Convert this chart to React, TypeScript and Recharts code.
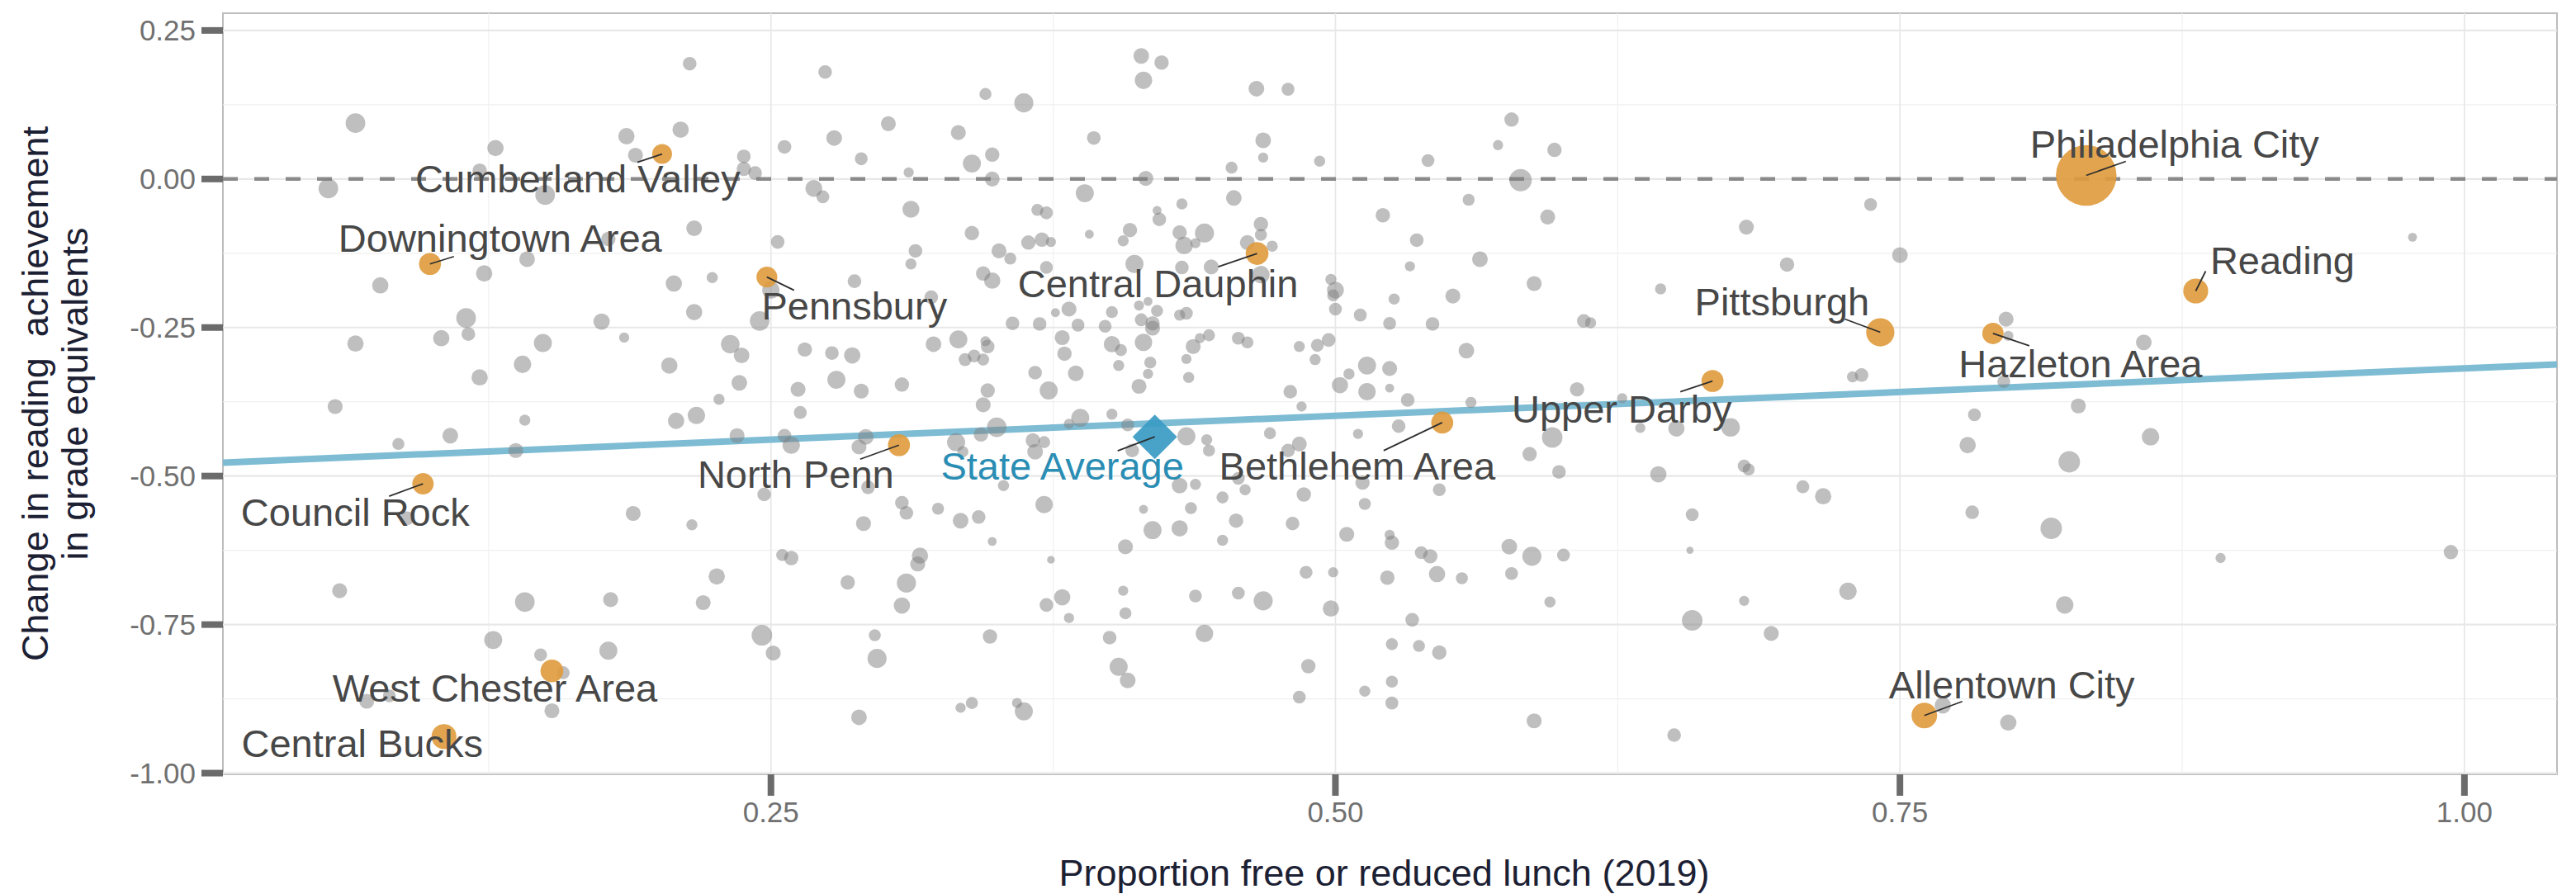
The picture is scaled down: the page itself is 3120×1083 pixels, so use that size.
import { Label, ReferenceArea, ReferenceLine, Scatter, ScatterChart, XAxis, YAxis, ZAxis } from 'recharts';

const FONT = '"Liberation Sans", Arial, Helvetica, sans-serif';

// axes
const X_DOMAIN: [number, number] = [0.0073, 1.041];
const Y_DOMAIN: [number, number] = [-1.002, 0.279];
const X_TICKS = [0.25, 0.5, 0.75, 1.0];
const Y_TICKS = [-1, -0.75, -0.5, -0.25, 0, 0.25];
const X_MINOR = [0.125, 0.375, 0.625, 0.875];
const Y_MINOR = [-0.875, -0.625, -0.375, -0.125, 0.125];

// linear fit drawn across the panel
const FIT_INTERCEPT = -0.4786;
const FIT_SLOPE = 0.16;

// state average
const STATE_AVG = [{ x: 0.42, y: -0.434, name: 'State Average' }];

// labelled districts: proportion FRL, change in grade equivalents, enrollment (thousands)
const NAMED = [
  'Philadelphia City', 'Pittsburgh', 'Allentown City', 'Reading', 'Central Bucks',
  'Downingtown Area', 'Central Dauphin', 'Upper Darby', 'Bethlehem Area', 'North Penn',
  'Pennsbury', 'Hazleton Area', 'Council Rock', 'West Chester Area', 'Cumberland Valley',
];
const NAMED_FRL = [0.8325, 0.7413, 0.7608, 0.881, 0.1052, 0.099, 0.4653, 0.667, 0.5473, 0.3067, 0.2482, 0.7912, 0.0959, 0.153, 0.2018];
const NAMED_CHANGE = [0.006, -0.258, -0.903, -0.1885, -0.9385, -0.143, -0.1254, -0.34, -0.41, -0.448, -0.165, -0.26, -0.513, -0.828, 0.042];
const NAMED_ENROLL = [124, 27, 22, 21, 21, 16.4, 17.6, 16.4, 16.4, 16.4, 14.7, 15.4, 15.4, 17.6, 13.3];

// all other districts: [proportion FRL, change, enrollment (thousands)]
const OTHER: [number, number, number][] = [
  [0.214, 0.194, 6.3], [0.066, 0.094, 13], [0.186, 0.072, 9], [0.210, 0.083, 9], [0.128, 0.052, 9],
  [0.256, 0.054, 6.3], [0.190, 0.040, 7.6], [0.238, 0.038, 6.3], [0.238, 0.017, 7], [0.243, 0.010, 6.3],
  [0.121, 0.014, 7], [0.054, -0.016, 13], [0.150, -0.027, 13], [0.216, -0.083, 8.3], [0.253, -0.106, 6.3],
  [0.178, -0.101, 7], [0.142, -0.135, 8.3], [0.123, -0.159, 9], [0.077, -0.179, 9], [0.207, -0.176, 9],
  [0.224, -0.166, 4.2], [0.250, -0.187, 10.3], [0.115, -0.234, 13], [0.216, -0.224, 9], [0.175, -0.240, 9],
  [0.245, -0.239, 13], [0.066, -0.277, 9], [0.104, -0.268, 9], [0.116, -0.261, 6.3], [0.149, -0.276, 11],
  [0.185, -0.267, 3.5], [0.232, -0.278, 11.7], [0.237, -0.297, 8.3], [0.265, -0.287, 7], [0.140, -0.312, 10.3],
  [0.205, -0.314, 9], [0.121, -0.334, 9], [0.236, -0.343, 8.3], [0.262, -0.354, 7.6],
  [0.274, 0.180, 6.3], [0.414, 0.207, 8.3], [0.423, 0.196, 7], [0.415, 0.166, 10.3], [0.345, 0.143, 4.9],
  [0.362, 0.128, 12.3], [0.465, 0.152, 8.3], [0.479, 0.151, 5.6], [0.302, 0.093, 7.6], [0.278, 0.069, 8.3],
  [0.333, 0.078, 7.6], [0.393, 0.069, 6.3], [0.468, 0.065, 8.3], [0.290, 0.034, 5.6], [0.348, 0.041, 7],
  [0.339, 0.026, 11], [0.311, 0.011, 3.5], [0.468, 0.036, 3.5], [0.454, 0.019, 4.9], [0.493, 0.030, 4.2],
  [0.348, 0.000, 7.6], [0.416, 0.001, 7.6], [0.269, -0.016, 9.7], [0.273, -0.030, 5.6], [0.389, -0.024, 11],
  [0.455, -0.032, 8.3], [0.312, -0.051, 9.7], [0.368, -0.052, 4.9], [0.372, -0.057, 5.6], [0.432, -0.042, 4.2],
  [0.421, -0.053, 2.7], [0.422, -0.068, 6.3], [0.521, -0.061, 7], [0.467, -0.076, 7], [0.339, -0.091, 7],
  [0.391, -0.093, 2.7], [0.409, -0.086, 7], [0.431, -0.090, 7], [0.442, -0.091, 12.3], [0.406, -0.104, 4.2],
  [0.364, -0.107, 7], [0.370, -0.102, 7], [0.374, -0.106, 3.5], [0.433, -0.112, 10.3], [0.438, -0.108, 3.5],
  [0.467, -0.094, 4.9], [0.461, -0.107, 7.6], [0.472, -0.113, 4.2], [0.314, -0.121, 6.3], [0.351, -0.121, 7.6],
  [0.356, -0.134, 4.9], [0.312, -0.143, 4.2], [0.411, -0.143, 11], [0.432, -0.149, 6.3], [0.445, -0.148, 7.6],
  [0.467, -0.161, 10.3], [0.372, -0.149, 5.6], [0.287, -0.172, 6.3], [0.344, -0.159, 7], [0.348, -0.171, 9],
  [0.498, -0.169, 4.2], [0.500, -0.187, 9.7], [0.499, -0.196, 4.9], [0.321, -0.199, 6.3], [0.526, -0.202, 4.2],
  [0.382, -0.219, 7.6], [0.376, -0.225, 2.7], [0.401, -0.224, 4.9], [0.413, -0.213, 3.5], [0.417, -0.206, 2.7],
  [0.421, -0.222, 4.9], [0.414, -0.237, 5.6], [0.419, -0.243, 7], [0.419, -0.251, 7.6], [0.431, -0.229, 4.2],
  [0.434, -0.226, 5.6], [0.500, -0.219, 5.6], [0.511, -0.229, 5.6], [0.357, -0.243, 6.3], [0.369, -0.244, 6.3],
  [0.386, -0.246, 5.6], [0.398, -0.248, 5.6], [0.524, -0.243, 5.6], [0.277, -0.293, 6.3], [0.286, -0.297, 9],
  [0.322, -0.278, 8.3], [0.333, -0.270, 11], [0.345, -0.273, 3.5], [0.346, -0.282, 6.3], [0.336, -0.304, 5.6],
  [0.340, -0.298, 5.6], [0.344, -0.304, 4.9], [0.379, -0.267, 7.6], [0.380, -0.294, 7], [0.401, -0.278, 9],
  [0.405, -0.288, 4.9], [0.415, -0.275, 10.3], [0.437, -0.282, 7.6], [0.440, -0.268, 3.5], [0.444, -0.263, 4.9],
  [0.457, -0.268, 5.6], [0.461, -0.275, 4.9], [0.484, -0.282, 4.2], [0.492, -0.280, 5.6], [0.497, -0.271, 6.3],
  [0.434, -0.303, 3.5], [0.418, -0.309, 4.9], [0.404, -0.314, 4.2], [0.491, -0.304, 4.2], [0.514, -0.314, 11],
  [0.524, -0.319, 7.6], [0.279, -0.338, 11], [0.290, -0.357, 7.6], [0.308, -0.346, 7], [0.367, -0.326, 6.3],
  [0.385, -0.327, 8.3], [0.373, -0.356, 11], [0.346, -0.356, 7], [0.417, -0.328, 3.5], [0.413, -0.349, 7.6],
  [0.435, -0.334, 4.2], [0.480, -0.358, 6.3], [0.502, -0.347, 9], [0.506, -0.328, 4.2], [0.514, -0.358, 10.3],
  [0.524, -0.352, 2.7],
  [0.578, 0.100, 7], [0.572, 0.057, 3.5], [0.597, 0.049, 7], [0.541, 0.031, 5.6], [0.582, -0.002, 16.9],
  [0.559, -0.035, 4.9], [0.594, -0.064, 7.6], [0.737, -0.043, 5.6], [0.682, -0.081, 7.6], [0.536, -0.103, 6.3],
  [0.750, -0.128, 8.3], [0.564, -0.135, 8.3], [0.533, -0.147, 3.5], [0.700, -0.144, 7], [0.588, -0.176, 7.6],
  [0.644, -0.185, 4.2], [0.552, -0.197, 7.6], [0.543, -0.244, 6.3], [0.610, -0.239, 6.3], [0.613, -0.242, 4.2],
  [0.558, -0.289, 8.3], [0.729, -0.333, 4.2], [0.733, -0.330, 6.3], [0.607, -0.354, 7],
  [0.977, -0.098, 2.7], [0.797, -0.236, 7.6], [0.798, -0.264, 3.5], [0.858, -0.275, 8.3], [0.796, -0.341, 5.6],
  [0.829, -0.382, 7.6],
  [0.861, -0.434, 10.3], [0.825, -0.476, 15.6], [0.817, -0.588, 15.6], [0.892, -0.638, 3.5], [0.994, -0.628, 7],
  [0.823, -0.717, 10.3], [0.798, -0.915, 9],
  [0.532, -0.372, 6.3], [0.560, -0.376, 4.2], [0.627, -0.369, 3.5], [0.596, -0.435, 14.3], [0.635, -0.419, 3.5],
  [0.651, -0.420, 9], [0.675, -0.418, 11.7], [0.783, -0.397, 5.6], [0.780, -0.448, 9], [0.586, -0.463, 7],
  [0.546, -0.523, 5.6], [0.599, -0.493, 6.3], [0.643, -0.497, 9], [0.681, -0.483, 5.6], [0.683, -0.489, 4.9],
  [0.707, -0.518, 5.6], [0.716, -0.534, 9], [0.658, -0.565, 5.6], [0.782, -0.561, 6.3], [0.538, -0.629, 5.6],
  [0.542, -0.635, 7], [0.577, -0.619, 8.3], [0.587, -0.635, 12.3], [0.601, -0.633, 5.6], [0.657, -0.625, 1.7],
  [0.545, -0.665, 9], [0.556, -0.672, 4.9], [0.578, -0.664, 5.6], [0.595, -0.712, 4.2], [0.727, -0.694, 10.3],
  [0.681, -0.710, 3.5], [0.534, -0.742, 6.3], [0.658, -0.743, 14.3], [0.693, -0.765, 7.6], [0.537, -0.786, 4.9],
  [0.546, -0.797, 7], [0.588, -0.912, 7.6], [0.650, -0.936, 6.3], [0.769, -0.886, 9],
  [0.344, -0.380, 7.6], [0.485, -0.383, 3.5], [0.528, -0.416, 6.3], [0.401, -0.396, 4.2], [0.387, -0.402, 11],
  [0.382, -0.412, 3.5], [0.350, -0.418, 13], [0.292, -0.434, 8.3], [0.289, -0.451, 7.6], [0.332, -0.443, 11],
  [0.343, -0.430, 7], [0.335, -0.459, 4.2], [0.366, -0.440, 7], [0.371, -0.443, 4.9], [0.367, -0.459, 8.3],
  [0.408, -0.414, 5.6], [0.410, -0.457, 6.3], [0.434, -0.433, 11], [0.443, -0.439, 4.2], [0.444, -0.457, 4.9],
  [0.471, -0.428, 4.9], [0.484, -0.446, 7.6], [0.479, -0.457, 6.3], [0.510, -0.429, 3.5], [0.293, -0.519, 6.3],
  [0.353, -0.516, 4.2], [0.431, -0.516, 8.3], [0.438, -0.514, 4.2], [0.450, -0.536, 4.9], [0.460, -0.523, 4.2],
  [0.486, -0.531, 7], [0.512, -0.511, 7], [0.457, -0.504, 5.6], [0.308, -0.545, 6.3], [0.310, -0.562, 6.3],
  [0.324, -0.555, 4.9], [0.291, -0.580, 7.6], [0.334, -0.575, 8.3], [0.342, -0.569, 6.3], [0.348, -0.610, 2.7],
  [0.371, -0.548, 10.3], [0.415, -0.556, 2.7], [0.436, -0.554, 4.9], [0.419, -0.591, 11], [0.431, -0.588, 9],
  [0.456, -0.575, 7], [0.450, -0.608, 4.2], [0.481, -0.580, 6.3], [0.505, -0.598, 7.6], [0.513, -0.547, 4.9],
  [0.524, -0.599, 3.5], [0.525, -0.612, 7], [0.407, -0.619, 7.6], [0.316, -0.634, 9], [0.315, -0.648, 7.6],
  [0.374, -0.641, 2], [0.284, -0.679, 7], [0.310, -0.680, 12.3], [0.308, -0.718, 9], [0.379, -0.704, 9],
  [0.372, -0.717, 6.3], [0.382, -0.739, 3.5], [0.406, -0.693, 3.5], [0.407, -0.731, 4.9], [0.438, -0.702, 5.6],
  [0.457, -0.697, 5.6], [0.468, -0.710, 12.3], [0.487, -0.662, 5.6], [0.499, -0.662, 3.5], [0.498, -0.723, 9],
  [0.523, -0.671, 7], [0.296, -0.768, 4.9], [0.297, -0.807, 12.3], [0.347, -0.770, 7], [0.400, -0.772, 6.3],
  [0.442, -0.765, 10.3], [0.404, -0.821, 11], [0.408, -0.844, 8.3], [0.488, -0.820, 7], [0.484, -0.872, 5.6],
  [0.513, -0.862, 4.2], [0.525, -0.846, 4.9], [0.525, -0.783, 4.9], [0.525, -0.882, 5.6], [0.289, -0.906, 8.3],
  [0.334, -0.890, 3.5], [0.339, -0.882, 4.9], [0.359, -0.882, 3.5], [0.362, -0.896, 11],
  [0.057, -0.383, 7.6], [0.141, -0.406, 4.2], [0.108, -0.432, 8.3], [0.085, -0.446, 4.9], [0.137, -0.457, 7.6],
  [0.208, -0.407, 9], [0.217, -0.398, 10.3], [0.227, -0.371, 4.2], [0.235, -0.432, 7.6], [0.263, -0.393, 5.6],
  [0.256, -0.432, 6.3], [0.259, -0.448, 10.3], [0.247, -0.531, 6.3], [0.089, -0.571, 6.3], [0.189, -0.563, 7.6],
  [0.215, -0.582, 4.2], [0.255, -0.633, 4.9], [0.259, -0.638, 7], [0.226, -0.669, 9], [0.059, -0.693, 7.6],
  [0.141, -0.712, 13], [0.179, -0.708, 7.6], [0.220, -0.713, 7.6], [0.127, -0.776, 11], [0.148, -0.801, 5.6],
  [0.178, -0.794, 11], [0.246, -0.768, 14.3], [0.251, -0.798, 7.6], [0.158, -0.831, 5.6], [0.071, -0.879, 7.6],
  [0.081, -0.870, 5.6], [0.153, -0.895, 7.6],
];

// label placement relative to each point, in px (text centre / baseline, leader end)
const LABEL_OFFSETS: Record<string, { dx: number; dy: number; lx?: number; ly?: number }> = {
  'Philadelphia City': { dx: 107, dy: -21, lx: 48, ly: -17 },
  Pittsburgh: { dx: -119, dy: -21, lx: -43, ly: -16 },
  'Allentown City': { dx: 106, dy: -21, lx: 46, ly: -17 },
  Reading: { dx: 105, dy: -20, lx: 12, ly: -24 },
  'Central Bucks': { dx: -99, dy: 25 },
  'Downingtown Area': { dx: 85, dy: -15, lx: 29, ly: -9 },
  'Central Dauphin': { dx: -120, dy: 53, lx: -47, ly: 16 },
  'Upper Darby': { dx: -110, dy: 50, lx: -39, ly: 13 },
  'Bethlehem Area': { dx: -103, dy: 69, lx: -71, ly: 34 },
  'North Penn': { dx: -125, dy: 52, lx: -47, ly: 17 },
  Pennsbury: { dx: 106, dy: 51, lx: 33, ly: 16 },
  'Hazleton Area': { dx: 106, dy: 53, lx: 44, ly: 15 },
  'Council Rock': { dx: -82, dy: 51, lx: -41, ly: 15 },
  'West Chester Area': { dx: -69, dy: 37 },
  'Cumberland Valley': { dx: -102, dy: 46, lx: -30, ly: 10 },
  'State Average': { dx: -112, dy: 52, lx: -45, ly: 17 },
};

const otherData = OTHER.map(([x, y, z]) => ({ x, y, z }));
const namedData = NAMED.map((name, i) => ({ name, x: NAMED_FRL[i], y: NAMED_CHANGE[i], z: NAMED_ENROLL[i] }));
const fitAt = (x: number) => FIT_INTERCEPT + FIT_SLOPE * x;

function NameLabel(props: any) {
  const { cx, cy, payload } = props;
  const o = LABEL_OFFSETS[payload.name];
  if (!o) return null;
  const isAvg = payload.name === 'State Average';
  return (
    <g>
      {o.lx !== undefined && (
        <line x1={cx} y1={cy} x2={cx + o.lx} y2={cy + (o.ly ?? 0)} stroke="#2f2f2f" strokeWidth={1.8} />
      )}
      <text
        x={cx + o.dx}
        y={cy + o.dy}
        textAnchor="middle"
        fontSize={47}
        fontFamily={FONT}
        fill={isAvg ? '#2a8db4' : '#474747'}
      >
        {payload.name}
      </text>
    </g>
  );
}

function Diamond(props: any) {
  const { cx, cy } = props;
  const h = 27;
  return (
    <polygon
      points={`${cx},${cy - h} ${cx + h},${cy} ${cx},${cy + h} ${cx - h},${cy}`}
      fill="#3a9bc4"
      fillOpacity={0.92}
    />
  );
}

function XTitle(props: any) {
  const vb = props.viewBox;
  return (
    <text x={vb.x + vb.width / 2 - 7} y={vb.y + 135} textAnchor="middle" fontSize={45} fontFamily={FONT} fill="#1c2033">
      Proportion free or reduced lunch (2019)
    </text>
  );
}

function YTitle(props: any) {
  const vb = props.viewBox;
  const cy = vb.y + vb.height / 2;
  return (
    <g fontSize={45} fontFamily={FONT} fill="#1c2033" textAnchor="middle">
      <text transform={`translate(${vb.x + 58},${cy}) rotate(-90)`} style={{ whiteSpace: 'pre' }}>
        {'Change in reading  achievement'}
      </text>
      <text transform={`translate(${vb.x + 106},${cy}) rotate(-90)`}>in grade equivalents</text>
    </g>
  );
}

const tickStyle = { fontSize: 35, fill: '#707070', fontFamily: FONT };
const tickLineStyle = { stroke: '#6b6b6b', strokeWidth: 8 };

export default function App() {
  return (
    <div style={{ width: 3120, height: 1083, background: '#fff' }}>
      <style>{'body{margin:0;background:#fff}'}</style>
      <ScatterChart width={3120} height={1083} margin={{ top: 16, right: 23, bottom: 0, left: 0 }}>
        <XAxis
          type="number"
          dataKey="x"
          domain={X_DOMAIN}
          ticks={X_TICKS}
          allowDataOverflow
          interval={0}
          height={145}
          axisLine={false}
          tickLine={tickLineStyle}
          tickSize={26}
          tickMargin={7}
          tick={tickStyle}
          tickFormatter={(v: number) => v.toFixed(2)}
        >
          <Label content={XTitle} />
        </XAxis>
        <YAxis
          type="number"
          dataKey="y"
          domain={Y_DOMAIN}
          ticks={Y_TICKS}
          allowDataOverflow
          interval={0}
          width={270}
          axisLine={false}
          tickLine={tickLineStyle}
          tickSize={26}
          tickMargin={7}
          tick={tickStyle}
          tickFormatter={(v: number) => v.toFixed(2)}
        >
          <Label content={YTitle} />
        </YAxis>
        <ZAxis type="number" dataKey="z" domain={[0, 124]} range={[0, 4231]} />

        {X_MINOR.map((v) => (
          <ReferenceLine key={`xm${v}`} x={v} stroke="#f0f0f0" strokeWidth={1.2} />
        ))}
        {Y_MINOR.map((v) => (
          <ReferenceLine key={`ym${v}`} y={v} stroke="#f0f0f0" strokeWidth={1.2} />
        ))}
        {X_TICKS.map((v) => (
          <ReferenceLine key={`xM${v}`} x={v} stroke="#e8e8e8" strokeWidth={1.8} />
        ))}
        {Y_TICKS.map((v) => (
          <ReferenceLine key={`yM${v}`} y={v} stroke="#e8e8e8" strokeWidth={2.2} />
        ))}
        <ReferenceArea
          x1={X_DOMAIN[0]}
          x2={X_DOMAIN[1]}
          y1={Y_DOMAIN[0]}
          y2={Y_DOMAIN[1]}
          fill="none"
          fillOpacity={0}
          stroke="#bdbdbd"
          strokeWidth={2}
        />
        <ReferenceLine y={0} stroke="#8a8a8a" strokeWidth={4.5} strokeDasharray="18 20" />
        <ReferenceLine
          segment={[
            { x: X_DOMAIN[0], y: fitAt(X_DOMAIN[0]) },
            { x: X_DOMAIN[1], y: fitAt(X_DOMAIN[1]) },
          ]}
          stroke="#7ebcd4"
          strokeWidth={8}
        />

        <Scatter data={otherData} fill="#7f7f7f" fillOpacity={0.5} isAnimationActive={false} />
        <Scatter data={namedData} fill="#df9a3c" fillOpacity={0.9} isAnimationActive={false} />
        <Scatter data={STATE_AVG} shape={Diamond} isAnimationActive={false} />
        <Scatter data={[...namedData, ...STATE_AVG]} shape={NameLabel} isAnimationActive={false} />
      </ScatterChart>
    </div>
  );
}
